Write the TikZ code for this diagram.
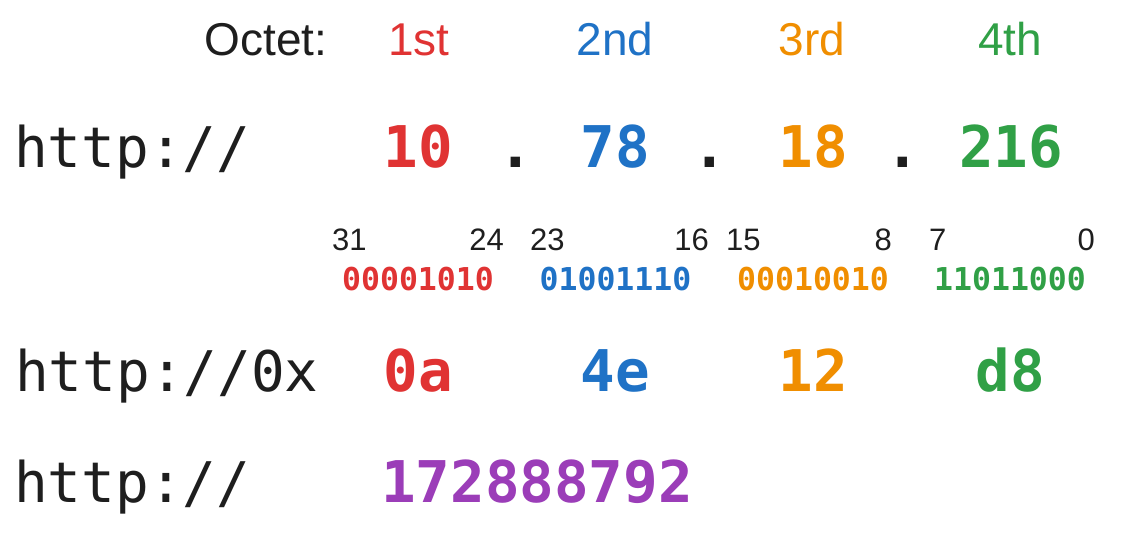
\documentclass[tikz,border=0pt]{standalone}
\usepackage{fontspec}
\setmainfont{Liberation Sans}
\newfontfamily\codefont{DejaVu Sans Mono}
\usepackage{tikz}
\definecolor{octA}{HTML}{E03333}
\definecolor{octB}{HTML}{1F72C6}
\definecolor{octC}{HTML}{F08E00}
\definecolor{octD}{HTML}{30A046}
\definecolor{octAll}{HTML}{9B3DB8}
\definecolor{ink}{HTML}{1E1E1E}
\tikzstyle{every node}+=[inner sep=0pt, anchor=base]
\tikzstyle{octet} = [font=\fontsize{46}{46}\selectfont, text=ink]
\tikzstyle{url} = [font=\codefont\fontsize{56}{56}\selectfont, text=ink, anchor=base west]
\tikzstyle{octval} = [font=\codefont\bfseries\fontsize{57.5}{57.5}\selectfont]
\tikzstyle{bitno} = [font=\fontsize{31}{31}\selectfont, text=ink]
\tikzstyle{bits} = [font=\codefont\bfseries\fontsize{31.5}{31.5}\selectfont]

\begin{document}
\begin{tikzpicture}[x=1pt, y=-1pt]
            \useasboundingbox [fill=white] (0,0) rectangle (1136,541);
            % Octet header
            \node [octet] (head) at (266,55) {Octet:};
            \node [octet, text=octA] (o1) at (419,55) {1st};
            \node [octet, text=octB] (o2) at (615,55) {2nd};
            \node [octet, text=octC] (o3) at (812,55) {3rd};
            \node [octet, text=octD] (o4) at (1010,55) {4th};
            % Dotted decimal
            \node [url] (u1) at (14,167) {http://};
            \node [octval, text=octA] (d1) at (418,167) {10};
            \node [octval, text=ink] (p1) at (516,167) {.};
            \node [octval, text=octB] (d2) at (615,167) {78};
            \node [octval, text=ink] (p2) at (710,167) {.};
            \node [octval, text=octC] (d3) at (813,167) {18};
            \node [octval, text=ink] (p3) at (903,167) {.};
            \node [octval, text=octD] (d4) at (1011,167) {216};
            % Bit positions
            \node [bitno, anchor=base west] (b31) at (332,250) {31};
            \node [bitno, anchor=base east] (b24) at (504,250) {24};
            \node [bitno, anchor=base west] (b23) at (530,250) {23};
            \node [bitno, anchor=base east] (b16) at (709,250) {16};
            \node [bitno, anchor=base west] (b15) at (726,250) {15};
            \node [bitno, anchor=base east] (b8) at (892,250) {8};
            \node [bitno, anchor=base west] (b7) at (929,250) {7};
            \node [bitno, anchor=base east] (b0) at (1095,250) {0};
            % Binary
            \node [bits, text=octA] (n1) at (418,290) {00001010};
            \node [bits, text=octB] (n2) at (615.5,290) {01001110};
            \node [bits, text=octC] (n3) at (813,290) {00010010};
            \node [bits, text=octD] (n4) at (1010,290) {11011000};
            % Hexadecimal
            \node [url] (u2) at (15,391) {http://0x};
            \node [octval, text=octA] (h1) at (418,391) {0a};
            \node [octval, text=octB] (h2) at (615.5,391) {4e};
            \node [octval, text=octC] (h3) at (813,391) {12};
            \node [octval, text=octD] (h4) at (1010,391) {d8};
            % Decimal
            \node [url] (u3) at (14,502) {http://};
            \node [octval, text=octAll, anchor=base west] (all) at (381,502) {172888792};
          \end{tikzpicture}
\end{document}
